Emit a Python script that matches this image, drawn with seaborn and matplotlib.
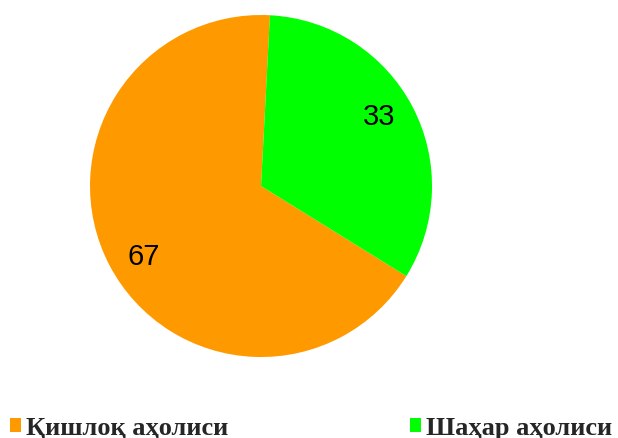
import matplotlib
matplotlib.use("Agg")
import matplotlib.pyplot as plt
import seaborn as sns
import numpy as np

# data
labels = ["Қишлоқ аҳолиси", "Шаҳар аҳолиси"]
values = [67, 33]
colors = ["#FF9900", "#00FF00"]

sns.set_theme(style="white")
plt.rcParams["font.family"] = ["Liberation Sans", "DejaVu Sans"]

fig = plt.figure(figsize=(6.18, 4.39), dpi=100)
ax = fig.add_axes([0.1318, 0.165, 0.5811, 0.818])

wedges, _, autotexts = ax.pie(
    values,
    colors=colors,
    startangle=87,
    autopct=lambda p: f"{p:.0f}",
    pctdistance=0.80,
    wedgeprops=dict(linewidth=0),
    textprops=dict(fontsize=21, color="black"),
)
# nudge value labels a few degrees counter-clockwise, as in the original
for t in autotexts:
    x, y = t.get_position()
    r = np.hypot(x, y)
    a = np.arctan2(y, x) + np.radians(3)
    t.set_position((r * np.cos(a), r * np.sin(a)))

ax.set_xlim(-1.05, 1.05)
ax.set_ylim(-1.05, 1.05)
ax.set_aspect("auto")

leg = fig.legend(
    wedges, labels,
    loc="lower left", bbox_to_anchor=(-0.005, -0.033),
    ncol=2, frameon=False,
    handlelength=0.4, handleheight=0.4, handletextpad=0.2,
    columnspacing=6.9, borderaxespad=0.2, borderpad=0.3,
    prop=dict(family=["Liberation Serif", "DejaVu Serif"], weight="bold", size=19),
)

fig.savefig("out.png", dpi=100)
